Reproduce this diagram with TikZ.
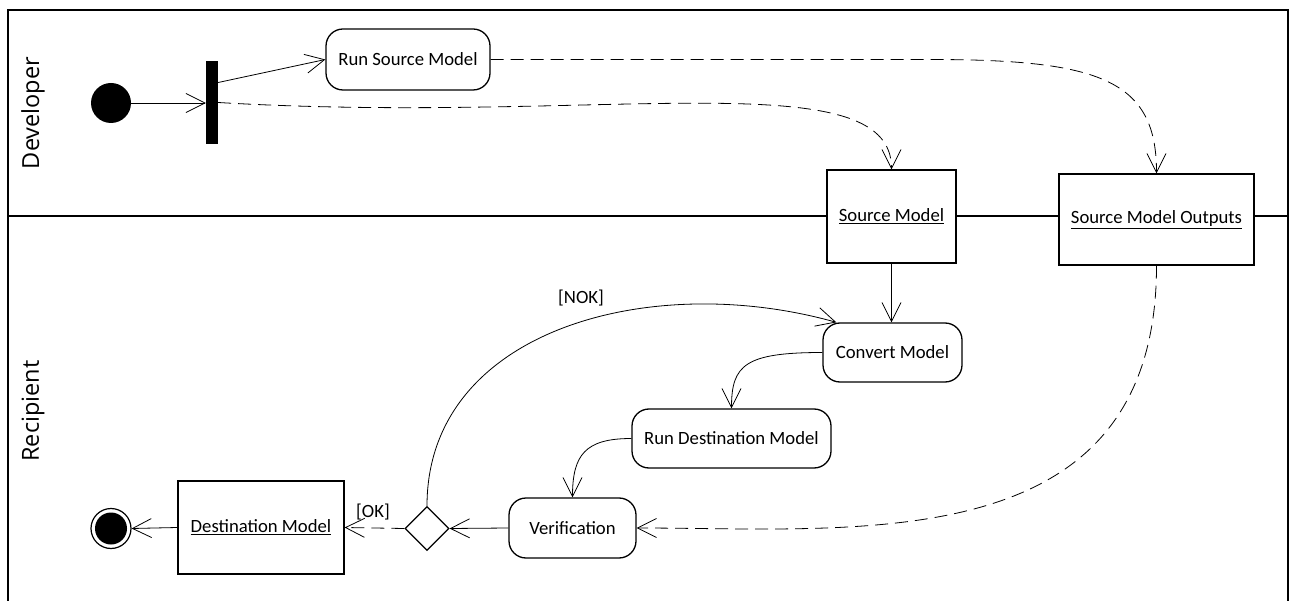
\documentclass[tikz,border=0pt]{standalone}
\usepackage{fontspec}
\setmainfont{Carlito}
\newfontfamily\lanefont{Open Sans}
\usetikzlibrary{arrows.meta,shapes.geometric}
\tikzset{
  act/.style={draw, line width=1.3pt, rounded corners=17pt, fill=white, inner sep=0pt,
    font=\fontsize{18.7}{22}\selectfont},
  obj/.style={draw, line width=1.3pt, fill=white, inner sep=0pt,
    font=\fontsize{18.7}{22}\selectfont},
  lbl/.style={font=\fontsize{18.7}{22}\selectfont, inner sep=0pt},
  lane/.style={font=\lanefont\fontsize{23.5}{26}\selectfont, rotate=90, inner sep=0pt},
  flow/.style={line width=0.8pt, -{Straight Barb[length=19pt,width=19pt,line width=0.8pt]}},
  dflow/.style={flow, dash pattern=on 13pt off 7pt},
  frameline/.style={line width=1.8pt}
}
\begin{document}
\begin{tikzpicture}[x=1pt,y=-1pt]
\useasboundingbox (0,0) rectangle (1295,601);
% frame and lanes
\draw[frameline] (8,601) -- (8,10) -- (1288,10) -- (1288,601);
\draw[frameline] (8,216) -- (1288,216);
\node[lane] (devlbl) at (33,113) {Developer};
\node[lane] (reclbl) at (33,411) {Recipient};

% nodes
\node[circle, fill=black, minimum size=40pt, inner sep=0pt] (start) at (111,103) {};
\node[rectangle, fill=black, minimum width=12pt, minimum height=83pt, inner sep=0pt] (bar) at (212,102.5) {};
\node[act, minimum width=164pt, minimum height=61pt] (rsm) at (408,59.5) {Run Source Model};
\node[obj, minimum width=129pt, minimum height=93pt] (sm) at (891.5,216.5) {\underline{Source Model}};
\node[obj, minimum width=195pt, minimum height=91pt] (smo) at (1156.5,219.5) {\underline{Source Model Outputs}};
\node[act, minimum width=139pt, minimum height=59pt] (cm) at (892.5,352.5) {Convert Model};
\node[act, minimum width=199pt, minimum height=59pt] (rdm) at (731.5,438.5) {Run Destination Model};
\node[act, minimum width=127pt, minimum height=60pt] (ver) at (572.5,528) {Verification};
\node[diamond, draw, line width=1.3pt, fill=white, minimum width=44pt, minimum height=44pt, inner sep=0pt, aspect=1] (dia) at (427,528.5) {};
\node[obj, minimum width=166pt, minimum height=93pt] (dm) at (261,527.5) {\underline{Destination Model}};
\node[circle, draw, line width=1.2pt, minimum size=40pt, inner sep=0pt] (end) at (111,528.5) {};
\node[circle, fill=black, minimum size=32pt, inner sep=0pt] (endin) at (111,528.5) {};
\node[lbl] (nok) at (581,298) {[NOK]};
\node[lbl] (ok) at (373,512) {[OK]};

% connectors
\draw[flow] (start) -- (start -| bar.west);
\draw[flow] ([yshift=20pt]bar.east) -- (rsm.west);
\draw[dflow] (bar.east) .. controls (600,125) and (891.5,60) .. (sm.north);
\draw[dflow] (rsm.east) -- (930,59.5) .. controls (1100,59.5) and (1156.5,80) .. (smo.north);
\draw[flow] (sm.south) -- (sm.south |- cm.north);
\draw[flow] (cm.west) .. controls (745,352.5) and (731.5,365) .. (rdm.north);
\draw[flow] (rdm.west) .. controls (585,438.5) and (572.5,455) .. (ver.north);
\draw[dflow] (smo.south) .. controls (1156.5,560) and (860,528) .. (ver.east);
\draw[flow] (ver.west) -- (dia.east);
\draw[dflow] (dia.west) -- (dm.east);
\draw[flow] (dm.west) -- (end.east);
\draw[flow] (dia.north) .. controls (427,330) and (650,270) .. ([xshift=14pt]cm.north west);
\end{tikzpicture}
\end{document}
